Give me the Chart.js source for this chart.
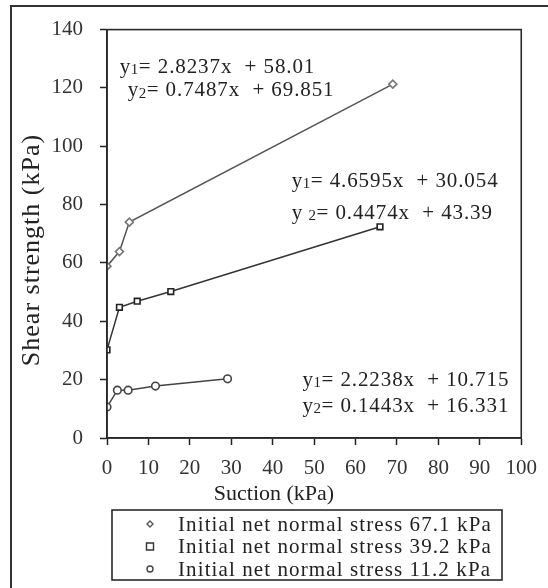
<!DOCTYPE html>
<html>
<head>
<meta charset="utf-8">
<script src="https://cdn.jsdelivr.net/npm/chart.js@4.4.0/dist/chart.umd.min.js"></script>
<style>
  html, body { margin: 0; padding: 0; background: #fff; }
  #wrap { width: 548px; height: 588px; }
</style>
</head>
<body>
<div id="wrap"><canvas id="shear" width="548" height="588"></canvas></div>
<script>
// suction (kPa) vs shear strength (kPa) for three net normal stresses
var suction67 = [0, 3.0, 5.4, 69.0];
var strength67 = [58.9, 63.9, 74.0, 121.3];
var suction39 = [0, 3.0, 7.3, 15.4, 65.9];
var strength39 = [30.2, 44.8, 46.9, 50.2, 72.4];
var suction11 = [0, 2.5, 5.1, 11.7, 29.1];
var strength11 = [10.6, 16.4, 16.4, 17.8, 20.3];

var seriesNames = [
    'Initial net normal stress 67.1 kPa',
    'Initial net normal stress 39.2 kPa',
    'Initial net normal stress 11.2 kPa'
];

// fitted lines, written as y1 / y2 for each stress level
var fits67 = ['= 2.8237x  + 58.01', '= 0.7487x  + 69.851'];
var fits39 = ['= 4.6595x  + 30.054', '= 0.4474x  + 43.39'];
var fits11 = ['= 2.2238x  + 10.715', '= 0.1443x  + 16.331'];

var xTickMin = 0, xTickMax = 100, xTickStep = 10;
var yTickMin = 0, yTickMax = 140, yTickStep = 20;

var SERIF = '"Liberation Serif", "Times New Roman", serif';
var INK = '#222';

function toPoints(xs, ys) {
    var pts = [];
    for (var i = 0; i < xs.length; i++) {
        pts.push({ x: xs[i], y: ys[i] });
    }
    return pts;
}

// where each equation pair starts, in data units (x of first char, y of line centre)
var fitLabels = [
    { lines: fits67, at: [[3.1, 127.0], [5.0, 119.1]], subGap: ['', ''] },
    { lines: fits39, at: [[44.6, 88.1], [44.6, 77.1]], subGap: ['', ' '] },
    { lines: fits11, at: [[47.2, 19.8], [47.2, 10.9]], subGap: ['', ''] }
];

function drawMarker(ctx, style, x, y, r) {
    ctx.beginPath();
    if (style === 'rect') {
        ctx.rect(x - r, y - r, r * 2, r * 2);
    } else if (style === 'rectRot') {
        ctx.moveTo(x, y - r);
        ctx.lineTo(x + r, y);
        ctx.lineTo(x, y + r);
        ctx.lineTo(x - r, y);
        ctx.closePath();
    } else {
        ctx.arc(x, y, r, 0, Math.PI * 2);
    }
    ctx.fill();
    ctx.stroke();
}

var extras = {
    id: 'extras',
    afterDraw: function (chart) {
        var ctx = chart.ctx;
        var area = chart.chartArea;
        var xs = chart.scales.x, ys = chart.scales.y;
        ctx.save();

        // box round the plot
        ctx.strokeStyle = '#2a2a2a';
        ctx.lineWidth = 1.6;
        ctx.strokeRect(area.left, area.top, area.right - area.left, area.bottom - area.top);

        // outer frame (left and top only)
        ctx.lineWidth = 2;
        ctx.strokeStyle = '#333';
        ctx.beginPath();
        ctx.moveTo(11, 588);
        ctx.lineTo(11, 6);
        ctx.lineTo(548, 6);
        ctx.stroke();

        // regression equations
        ctx.fillStyle = INK;
        ctx.textBaseline = 'middle';
        ctx.textAlign = 'left';
        fitLabels.forEach(function (grp) {
            grp.lines.forEach(function (txt, i) {
                var px = xs.getPixelForValue(grp.at[i][0]);
                var py = ys.getPixelForValue(grp.at[i][1]);
                ctx.letterSpacing = '0.5px';
                ctx.font = '21px ' + SERIF;
                ctx.fillText('y' + grp.subGap[i], px, py);
                px += ctx.measureText('y' + grp.subGap[i]).width;
                ctx.font = '15px ' + SERIF;
                ctx.fillText(String(i + 1), px, py + 3);
                px += ctx.measureText(String(i + 1)).width;
                ctx.letterSpacing = '0.9px';
                ctx.font = '21px ' + SERIF;
                ctx.fillText(txt, px, py);
            });
        });

        // axis titles
        ctx.letterSpacing = '0px';
        ctx.textAlign = 'center';
        ctx.font = '22px ' + SERIF;
        ctx.fillText('Suction (kPa)', 274, 494);
        ctx.save();
        ctx.translate(32, 250);
        ctx.rotate(-Math.PI / 2);
        ctx.letterSpacing = '1px';
        ctx.font = '26px ' + SERIF;
        ctx.fillText('Shear strength (kPa)', 0, 0);
        ctx.restore();

        // legend box
        ctx.lineWidth = 1.6;
        ctx.strokeStyle = '#2a2a2a';
        ctx.strokeRect(112, 510, 390, 70);
        ctx.textAlign = 'left';
        ctx.letterSpacing = '1.1px';
        ctx.font = '21px ' + SERIF;
        chart.data.datasets.forEach(function (ds, i) {
            var rowY = 524 + i * 22.5;
            ctx.fillStyle = '#fff';
            ctx.strokeStyle = ds.borderColor;
            ctx.lineWidth = 1.4;
            drawMarker(ctx, ds.pointStyle, 150, rowY, ds.legendRadius);
            ctx.fillStyle = INK;
            ctx.fillText(ds.label, 178, rowY + 1);
        });

        ctx.restore();
    }
};

var lineCommon = {
    showLine: true,
    tension: 0,
    borderWidth: 1.5,
    pointBackgroundColor: '#fff',
    pointBorderWidth: 1.6
};

var datasets = [
    Object.assign({
        label: seriesNames[0],
        data: toPoints(suction67, strength67),
        borderColor: '#555',
        pointBorderColor: '#777',
        pointStyle: 'rectRot',
        pointRadius: 4,
        legendRadius: 3
    }, lineCommon),
    Object.assign({
        label: seriesNames[1],
        data: toPoints(suction39, strength39),
        borderColor: '#333',
        pointBorderColor: '#222',
        pointStyle: 'rect',
        pointRadius: 4,
        legendRadius: 3.5
    }, lineCommon),
    Object.assign({
        label: seriesNames[2],
        data: toPoints(suction11, strength11),
        borderColor: '#444',
        pointBorderColor: '#444',
        pointStyle: 'circle',
        pointRadius: 3.8,
        legendRadius: 3
    }, lineCommon)
];

var ctx = document.getElementById('shear').getContext('2d');
var myScatter = new Chart(ctx, {
    type: 'scatter',
    data: { datasets: datasets },
    options: {
        responsive: false,
        animation: false,
        layout: { padding: { left: 0, top: 28, right: 26, bottom: 0 } },
        plugins: {
            legend: { display: false },
            tooltip: { enabled: false }
        },
        scales: {
            x: {
                type: 'linear',
                min: xTickMin,
                max: xTickMax,
                afterFit: function (scale) { scale.height = 150; },
                ticks: {
                    stepSize: xTickStep,
                    color: '#333',
                    padding: 11,
                    maxRotation: 0,
                    font: { family: SERIF, size: 21 }
                },
                grid: { drawOnChartArea: false, tickLength: 7, tickColor: '#222', tickWidth: 1.5 },
                border: { display: true, color: '#222', width: 1.6 }
            },
            y: {
                type: 'linear',
                min: yTickMin,
                max: yTickMax,
                afterFit: function (scale) { scale.width = 107; },
                ticks: {
                    stepSize: yTickStep,
                    color: '#333',
                    padding: 17,
                    font: { family: SERIF, size: 21 }
                },
                grid: { drawOnChartArea: false, tickLength: 7, tickColor: '#222', tickWidth: 1.5 },
                border: { display: true, color: '#222', width: 1.6 }
            }
        }
    },
    plugins: [extras]
});
</script>
</body>
</html>
